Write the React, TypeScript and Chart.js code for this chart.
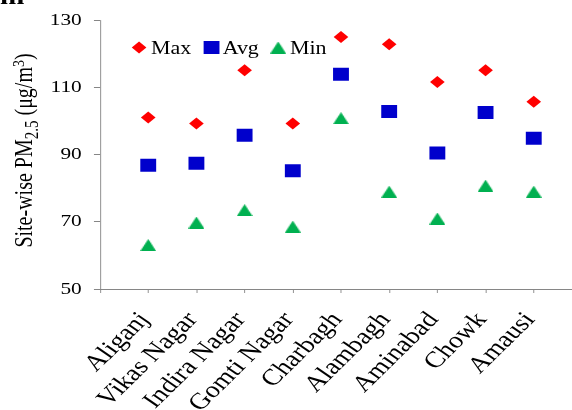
import { useEffect, useRef } from 'react';
import { Chart, registerables } from 'chart.js';

Chart.register(...registerables);

// ---- data ----
const sites = ['Aliganj', 'Vikas Nagar', 'Indira Nagar', 'Gomti Nagar', 'Charbagh', 'Alambagh', 'Aminabad', 'Chowk', 'Amausi'];
const maxValues = [101.1, 99.3, 115.2, 99.3, 125.1, 122.9, 111.7, 115.2, 105.8];
const avgValues = [86.9, 87.5, 95.8, 85.2, 114.0, 102.9, 90.5, 102.6, 94.9];
const minValues = [63.1, 69.8, 73.5, 68.6, 100.9, 79.0, 71.0, 80.8, 79.0];
const seriesNames = ['Max', 'Avg', 'Min'];
const yTicks = [50, 70, 90, 110, 130];
const yTitleMain = 'Site-wise PM';
const yTitleSub = '2.5';
const yTitleUnit = ' (\u03bcg/m';
const yTitleSup = '3';
const yTitleEnd = ')';
const panelLabel = 'm';

// ---- geometry / style ----
const SX = 1.22; // horizontal stretch of the reference image
const PHYS_W = 600;
const PHYS_H = 440;
const LOG_W = Math.round(PHYS_W / SX);
const PLOT_LEFT = 82;
const PLOT_RIGHT = 477;
const PLOT_TOP = 19;
const PLOT_BOTTOM = 289;
const FONT = '"Liberation Serif", "Times New Roman", serif';
const AXIS_COLOR = '#868686';
const RED = '#FF0000';
const BLUE = '#0000CC';
const GREEN = '#00B050';

function makeTriangle(color: string, w: number, h: number) {
  const c = document.createElement('canvas');
  c.width = w;
  c.height = h;
  const g = c.getContext('2d')!;
  g.fillStyle = color;
  g.beginPath();
  g.moveTo(w / 2, 0);
  g.lineTo(w, h);
  g.lineTo(0, h);
  g.closePath();
  g.fill();
  return c;
}

export default function App() {
  const ref = useRef<HTMLCanvasElement | null>(null);

  useEffect(() => {
    const canvas = ref.current!;
    canvas.width = LOG_W;
    canvas.height = PHYS_H;
    const tri = makeTriangle(GREEN, 13, 12);
    const pad = (a: number[]) => [null, ...a, null];

    const stretch = {
      id: 'stretch',
      beforeDraw(chart: any) {
        chart.ctx.setTransform(SX, 0, 0, 1, 0, 0);
      },
    };

    const decor = {
      id: 'decor',
      afterDraw(chart: any) {
        const ctx = chart.ctx as CanvasRenderingContext2D;
        ctx.save();
        // legend
        const ly = 47.5;
        ctx.fillStyle = RED;
        ctx.beginPath();
        ctx.moveTo(114 - 6, ly);
        ctx.lineTo(114, ly - 6);
        ctx.lineTo(114 + 6, ly);
        ctx.lineTo(114, ly + 6);
        ctx.closePath();
        ctx.fill();
        ctx.fillStyle = BLUE;
        ctx.fillRect(173.4 - 6.5, ly - 6.5, 13, 13);
        ctx.drawImage(tri, 228 - 6.5, ly - 6);
        ctx.fillStyle = '#000';
        ctx.font = `18px ${FONT}`;
        ctx.textBaseline = 'alphabetic';
        ctx.textAlign = 'left';
        ctx.fillText(seriesNames[0], 123.8, 54);
        ctx.fillText(seriesNames[1], 182.5, 54);
        ctx.fillText(seriesNames[2], 237.7, 54);

        // y title with sub/superscripts
        const main = `20px ${FONT}`;
        const sub = `15px ${FONT}`;
        const sup = `14px ${FONT}`;
        const parts: [string, string, number][] = [
          [yTitleMain, main, 0],
          [yTitleSub, sub, 5],
          [yTitleUnit, main, 0],
          [yTitleSup, sup, -7],
          [yTitleEnd, main, 0],
        ];
        let total = 0;
        for (const [t, f] of parts) {
          ctx.font = f;
          total += ctx.measureText(t).width;
        }
        ctx.translate(26.5, 150.5);
        ctx.rotate(-Math.PI / 2);
        let x = -total / 2;
        for (const [t, f, dy] of parts) {
          ctx.font = f;
          ctx.fillText(t, x, dy);
          x += ctx.measureText(t).width;
        }
        ctx.restore();

        // panel label (cut off at top)
        ctx.save();
        ctx.fillStyle = '#000';
        ctx.font = `bold 24px ${FONT}`;
        ctx.textBaseline = 'alphabetic';
        ctx.fillText(panelLabel, 0, 4);
        ctx.restore();
      },
    };

    const chart = new Chart(canvas, {
      type: 'line',
      data: {
        labels: ['', ...sites, ''],
        datasets: [
          {
            label: seriesNames[0],
            data: pad(maxValues),
            showLine: false,
            pointStyle: 'rectRot',
            pointRadius: 6,
            pointBorderWidth: 0,
            backgroundColor: RED,
            borderColor: RED,
          },
          {
            label: seriesNames[1],
            data: pad(avgValues),
            showLine: false,
            pointStyle: 'rect',
            pointRadius: 9.2,
            pointBorderWidth: 0,
            backgroundColor: BLUE,
            borderColor: BLUE,
          },
          {
            label: seriesNames[2],
            data: pad(minValues),
            showLine: false,
            pointStyle: tri,
            pointRadius: 6,
            pointBorderWidth: 0,
            backgroundColor: GREEN,
            borderColor: GREEN,
          },
        ],
      },
      options: {
        responsive: false,
        animation: false,
        devicePixelRatio: 1,
        layout: { padding: { top: PLOT_TOP, left: 0, right: LOG_W - PLOT_RIGHT, bottom: 0 } },
        plugins: { legend: { display: false }, tooltip: { enabled: false }, title: { display: false } },
        events: [],
        scales: {
          x: {
            type: 'category',
            offset: false,
            grid: { drawOnChartArea: false, drawTicks: true, tickLength: 4, color: AXIS_COLOR, lineWidth: 1 / SX },
            border: { color: AXIS_COLOR, width: 1 },
            ticks: {
              autoSkip: false,
              minRotation: 50,
              maxRotation: 50,
              padding: 14,
              labelOffset: -3,
              color: '#000',
              font: { family: FONT, size: 23 },
            },
            afterFit: (s: any) => {
              s.height = PHYS_H - PLOT_BOTTOM;
              s.paddingLeft = 0;
              s.paddingRight = 0;
            },
          },
          y: {
            type: 'linear',
            min: 50,
            max: 130,
            grid: { drawOnChartArea: false, drawTicks: true, tickLength: 5, color: AXIS_COLOR, lineWidth: 1 },
            border: { color: AXIS_COLOR, width: 1 / SX },
            ticks: { padding: 10, color: '#000', font: { family: FONT, size: 17.5 } },
            afterBuildTicks: (s: any) => {
              s.ticks = yTicks.map((v) => ({ value: v }));
            },
            afterFit: (s: any) => {
              s.width = PLOT_LEFT;
            },
          },
        },
      },
      plugins: [stretch, decor],
    } as any);

    canvas.width = PHYS_W;
    canvas.height = PHYS_H;
    canvas.style.width = PHYS_W + 'px';
    canvas.style.height = PHYS_H + 'px';
    chart.draw();

    return () => chart.destroy();
  }, []);

  return (
    <div style={{ position: 'fixed', left: 0, top: 0, width: 572, height: 410, overflow: 'hidden', background: '#fff' }}>
      <canvas ref={ref} style={{ display: 'block' }} />
    </div>
  );
}
